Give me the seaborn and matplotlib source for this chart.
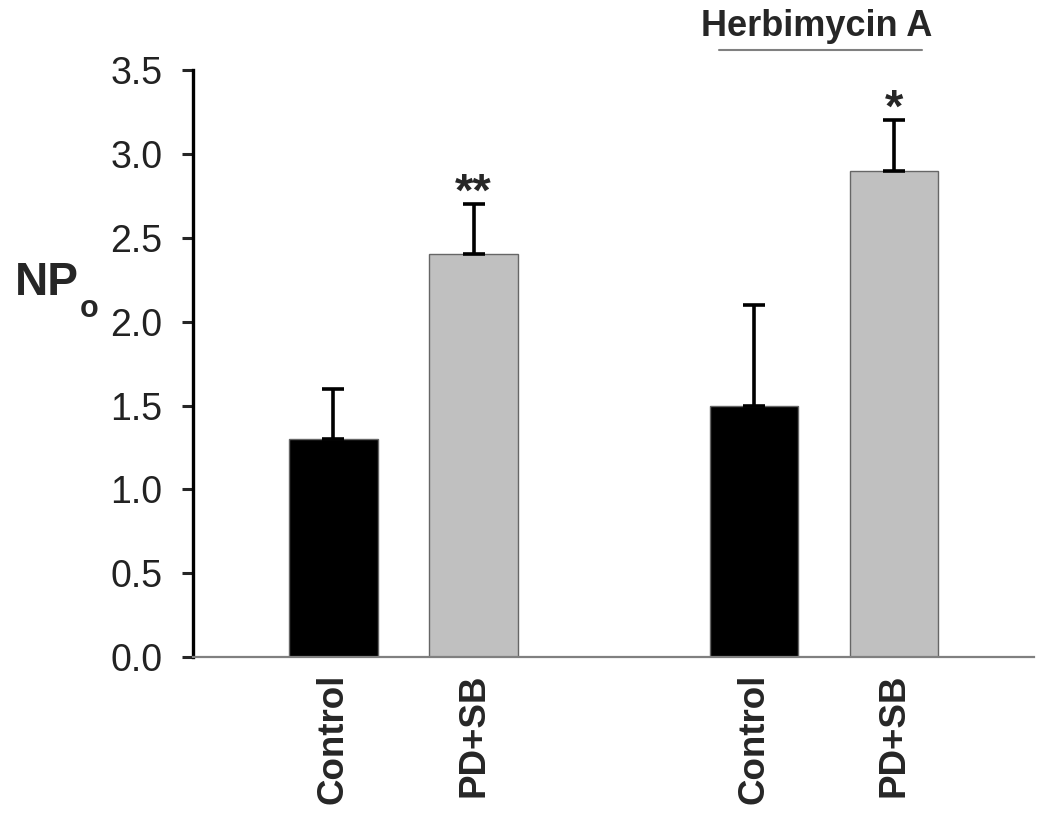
import numpy as np
import pandas as pd
import matplotlib
matplotlib.use("Agg")
import matplotlib.pyplot as plt
import seaborn as sns

# values
conditions = ["Control", "PD+SB", "", "Control", "PD+SB"]
slots = ["c1", "p1", "gap", "c2", "p2"]
bar_slots = ["c1", "p1", "c2", "p2"]
treatments = ["Control", "PD+SB", "Control", "PD+SB"]
npo_mean = [1.3, 2.4, 1.5, 2.9]
npo_err = [0.3, 0.3, 0.6, 0.3]
stars = ["", "**", "", "*"]

sns.set_style("white")
plt.rcParams["font.family"] = ["Liberation Sans", "DejaVu Sans"]

df = pd.DataFrame({"slot": bar_slots, "treatment": treatments, "npo": npo_mean})

fig = plt.figure(figsize=(10.5, 8.31), dpi=100)
ax = fig.add_axes([0.184, 0.209, 0.801, 0.707])

sns.barplot(data=df, x="slot", y="npo", hue="treatment", order=slots,
            palette={"Control": "black", "PD+SB": "#c0c0c0"}, dodge=False,
            width=0.63, edgecolor="#666666", linewidth=1.0, legend=False, ax=ax)

# one-sided error bars (upwards only)
pos = [slots.index(s) for s in bar_slots]
ax.errorbar(pos, npo_mean, yerr=[np.zeros(len(npo_err)), npo_err], fmt="none",
            ecolor="black", elinewidth=2.6, capsize=8, capthick=2.6, zorder=3)

for p, m, e, s in zip(pos, npo_mean, npo_err, stars):
    if s:
        ax.text(p, m + e - 0.07, s, ha="center", va="bottom", fontsize=34,
                fontweight="bold")

ax.set_xlim(-1.0, 5.0)
ax.set_ylim(0, 3.5)
ax.set_yticks(np.arange(0, 3.51, 0.5))
ax.set_yticklabels([f"{v:.1f}" for v in np.arange(0, 3.51, 0.5)], fontsize=27,
                   color="#222222")
ax.set_xticks(range(len(slots)))
ax.set_xticklabels(conditions, rotation=90, fontsize=26.5, fontweight="bold")
ax.tick_params(axis="y", direction="out", length=8, width=2.2, left=True, pad=14)
ax.tick_params(axis="x", length=0, pad=12)

for side in ["top", "right"]:
    ax.spines[side].set_visible(False)
ax.spines["left"].set_linewidth(2.4)
ax.spines["left"].set_color("black")
ax.spines["bottom"].set_linewidth(1.6)
ax.spines["bottom"].set_color("#808080")

# y label: bold "NP" with a small subscript "o"
ax.set_xlabel("")
ax.set_ylabel("")
ax.text(-0.212, 0.637, "NP", transform=ax.transAxes, ha="left", va="center",
        fontsize=33, fontweight="bold")
ax.text(-0.135, 0.593, "o", transform=ax.transAxes, ha="left", va="center",
        fontsize=22, fontweight="bold")

# group annotation for the Herbimycin A pair
ax.text(3.45, 3.76, "Herbimycin A", ha="center", va="center", fontsize=26,
        fontweight="bold", clip_on=False)
ax.plot([2.75, 4.2], [3.62, 3.62], color="#808080", lw=1.5, clip_on=False)

fig.savefig("out.png", dpi=100)
